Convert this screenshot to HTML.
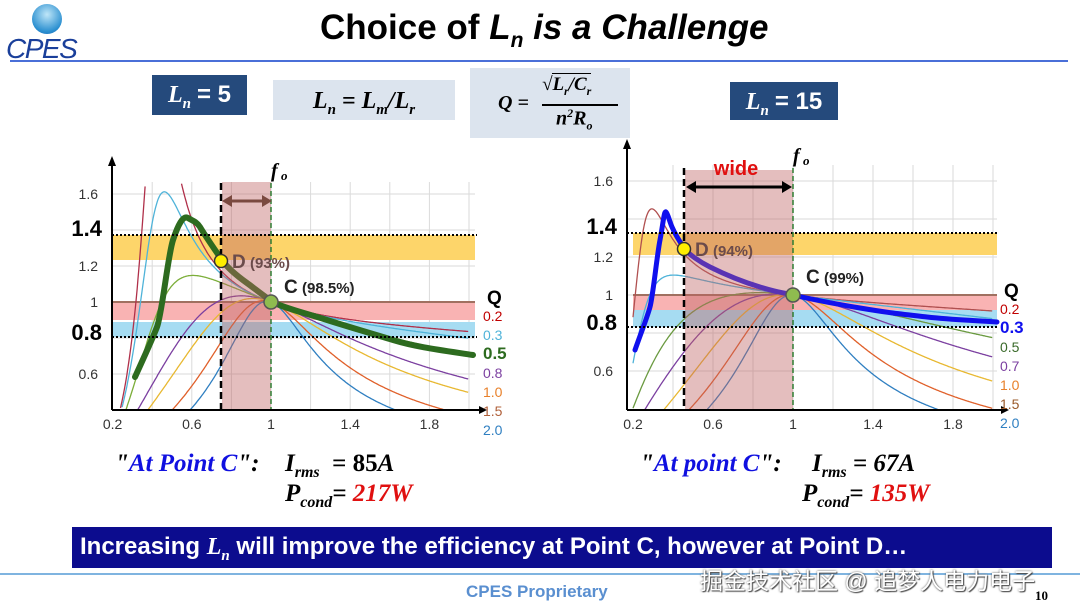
<!DOCTYPE html>
<html><head><meta charset="utf-8"><style>
body{margin:0;width:1080px;height:608px;background:#fff;overflow:hidden;position:relative;font-family:"Liberation Sans",sans-serif}
.a{position:absolute;white-space:nowrap}
.m{font-family:"Liberation Serif",serif;font-weight:bold;font-style:italic}
</style></head><body>
<!-- logo -->
<div class="a" style="left:32px;top:4px;width:30px;height:30px;border-radius:50%;background:radial-gradient(circle at 50% 35%,#bfe6f8,#2a8fd0 70%,#1a5fb0)"></div>
<div class="a" style="left:6px;top:33px;font-size:28px;font-style:italic;color:#1a3f9a;letter-spacing:-1.5px">CPES</div>
<div class="a" style="left:10px;top:60px;width:1058px;height:2px;background:#4a6fd8"></div>
<div class="a" style="left:320px;top:8px;font-size:35px;font-weight:bold;color:#000">Choice of <i>L<sub style="font-size:21px">n</sub> is a Challenge</i></div>
<!-- boxes -->
<div class="a m" style="left:152px;top:75px;width:95px;height:40px;background:#254a7c;color:#fff;font-size:24px;line-height:40px;text-align:center">L<sub style="font-size:15px">n</sub> <span style="font-style:normal;font-family:'Liberation Sans'">= 5</span></div>
<div class="a m" style="left:273px;top:80px;width:182px;height:40px;background:#dce4ee;color:#000;font-size:24px;line-height:42px;text-align:center">L<sub style="font-size:15px">n</sub> = L<sub style="font-size:15px">m</sub>/L<sub style="font-size:15px">r</sub></div>
<div class="a" style="left:470px;top:68px;width:160px;height:70px;background:#dce4ee"></div>
<div class="a m" style="left:498px;top:92px;font-size:20px">Q =</div>
<div class="a m" style="left:542px;top:74px;font-size:19px">√<span style="border-top:1.5px solid #000">L<sub style="font-size:12px">r</sub>/C<sub style="font-size:12px">r</sub></span></div>
<div class="a" style="left:542px;top:104px;width:76px;height:1.5px;background:#000"></div>
<div class="a m" style="left:556px;top:106px;font-size:20px">n<sup style="font-size:12px">2</sup>R<sub style="font-size:12px">o</sub></div>
<div class="a m" style="left:730px;top:82px;width:108px;height:38px;background:#254a7c;color:#fff;font-size:24px;line-height:40px;text-align:center">L<sub style="font-size:15px">n</sub> <span style="font-style:normal;font-family:'Liberation Sans'">= 15</span></div>

<svg class="a" style="left:0;top:0" width="1080" height="608" id="s">
<g id="L"></g><g id="R"></g>
</svg>

<!-- bottom text -->
<div class="a m" style="left:115px;top:450px;font-size:25px;color:#1010e0"><span style="color:#000">"</span>At Point C<span style="color:#000">":</span></div>
<div class="a m" style="left:285px;top:450px;font-size:25px;color:#000">I<sub style="font-size:16px">rms</sub> <span style="font-style:normal">&nbsp;= 85</span>A</div>
<div class="a m" style="left:285px;top:480px;font-size:25px;color:#000">P<sub style="font-size:16px">cond</sub>= <span style="color:#e01010">217W</span></div>
<div class="a m" style="left:640px;top:450px;font-size:25px;color:#1010e0"><span style="color:#000">"</span>At point C<span style="color:#000">":</span></div>
<div class="a m" style="left:812px;top:450px;font-size:25px;color:#000">I<sub style="font-size:16px">rms</sub> = 67A</div>
<div class="a m" style="left:802px;top:480px;font-size:25px;color:#000">P<sub style="font-size:16px">cond</sub>= <span style="color:#e01010">135W</span></div>
<div class="a" style="left:72px;top:527px;width:980px;height:41px;background:#0c0c8e"></div>
<div class="a" style="left:80px;top:533px;font-size:24px;font-weight:bold;color:#fff">Increasing <i style="font-family:'Liberation Serif'">L<sub style="font-size:15px">n</sub></i> will improve the efficiency at Point C, however at Point D…</div>
<div class="a" style="left:0;top:573px;width:1080px;height:1.5px;background:#7fb4e0"></div>
<div class="a" style="left:466px;top:582px;font-size:17px;font-weight:bold;color:#5a8fd0">CPES Proprietary</div>
<div class="a" style="left:1035px;top:588px;font-size:13px;font-weight:bold;font-family:'Liberation Serif',serif">10</div>
<div class="a" style="left:700px;top:562px;font-size:23px;color:#fff;text-shadow:0 0 2px #555,1px 1px 1px #444;font-family:'Liberation Sans','Noto Sans CJK SC',sans-serif">掘金技术社区 @ 追梦人电力电子</div>

<script>
var NS="http://www.w3.org/2000/svg";
function el(g,t,a,txt){var e=document.createElementNS(NS,t);for(var k in a)e.setAttribute(k,a[k]);if(txt!==undefined)e.textContent=txt;g.appendChild(e);return e;}
function M(f,Ln,Q){var a=1+(1/Ln)*(1-1/(f*f)),b=Q*(f-1/f);return 1/Math.sqrt(a*a+b*b);}
function chart(g,o){
 var X=function(f){return o.x1+(f-1)*o.sx},Y=function(v){return o.y1-(v-1)*o.sy};
 for(var f=0.4;f<=2.01;f+=0.2)el(g,"line",{x1:X(f),x2:X(f),y1:o.top,y2:410,stroke:"#dadada","stroke-width":1});
 for(var v=0.6;v<=1.61;v+=0.2)el(g,"line",{x1:o.x0,x2:o.xr,y1:Y(v),y2:Y(v),stroke:"#dadada","stroke-width":1});
 var B=o.bands;
 el(g,"rect",{x:o.bx,y:B[0],width:o.xr-o.bx,height:B[1]-B[0],fill:"#fdd56a"});
 el(g,"rect",{x:o.bx,y:B[1],width:o.xr-o.bx,height:B[2]-B[1],fill:"#dcefcc"});
 el(g,"rect",{x:o.bx,y:B[3],width:o.xr-o.bx,height:B[4]-B[3],fill:"#f9b3b3"});
 el(g,"rect",{x:o.bx,y:B[5],width:o.xr-o.bx,height:B[6]-B[5],fill:"#a6dcf2"});
 el(g,"line",{x1:o.bx,x2:o.xr,y1:Y(1),y2:Y(1),stroke:"#a07060","stroke-width":2});
 o.qs.forEach(function(q,i){var d="",pen=false;
  for(var f=0.2;f<=2.0;f+=0.004){var y=Y(M(f,o.Ln,q*o.qk));var x=X(f);
   if(y<o.top||y>410){pen=false;continue;}
   d+=(pen?"L":"M")+x.toFixed(1)+","+y.toFixed(1);pen=true;}
  el(g,"path",{d:d,fill:"none",stroke:o.cols[i],"stroke-width":1.3});});
 el(g,"path",{d:o.bold,fill:"none",stroke:o.bc,"stroke-width":o.bw,"stroke-linejoin":"round","stroke-linecap":"round"});
 el(g,"rect",{x:o.px,y:o.ptop,width:X(1)-o.px,height:410-o.ptop,fill:"rgba(190,100,100,0.42)"});
 el(g,"line",{x1:o.x0,x2:o.xr+2,y1:B[0],y2:B[0],stroke:"#000","stroke-width":2,"stroke-dasharray":"2,2"});
 el(g,"line",{x1:o.x0,x2:o.xr+2,y1:B[6],y2:B[6],stroke:"#000","stroke-width":2,"stroke-dasharray":"2,2"});
 el(g,"line",{x1:o.px-1,x2:o.px-1,y1:o.vtop,y2:410,stroke:"#000","stroke-width":2.5,"stroke-dasharray":"7,4"});
 el(g,"line",{x1:X(1),x2:X(1),y1:o.vtop,y2:410,stroke:"#2e7d32","stroke-width":1.5,"stroke-dasharray":"5,3"});
 el(g,"line",{x1:o.x0,x2:o.x0,y1:410,y2:o.top-22,stroke:"#000","stroke-width":2});
 el(g,"path",{d:"M"+(o.x0-4)+","+(o.top-16)+"L"+o.x0+","+(o.top-26)+"L"+(o.x0+4)+","+(o.top-16)+"Z"});
 el(g,"line",{x1:o.x0,x2:o.xr+8,y1:410,y2:410,stroke:"#000","stroke-width":2});
 el(g,"path",{d:"M"+(o.xr+4)+",406L"+(o.xr+12)+",410L"+(o.xr+4)+",414Z"});
 [[0.2,"0.2"],[0.6,"0.6"],[1,"1"],[1.4,"1.4"],[1.8,"1.8"]].forEach(function(t){el(g,"text",{x:X(t[0]),y:429,"font-size":14,"text-anchor":"middle",fill:"#333"},t[1]);});
 [[1.6,"1.6"],[1.2,"1.2"],[1,"1"],[0.6,"0.6"]].forEach(function(t){el(g,"text",{x:o.x0-14,y:Y(t[0])+5,"font-size":14,"text-anchor":"end",fill:"#333"},t[1]);});
 el(g,"text",{x:o.x0-10,y:B[0]+1,"font-size":22,"font-weight":"bold","text-anchor":"end"},"1.4");
 el(g,"text",{x:o.x0-10,y:B[6]+3,"font-size":22,"font-weight":"bold","text-anchor":"end"},"0.8");
 el(g,"text",{x:o.lx+4,y:Y(1)+2,"font-size":19,"font-weight":"bold"},"Q");
 o.labs.forEach(function(l,i){el(g,"text",{x:o.lx,y:Y(1)+19+i*19,"font-size":l[2]?17:14,"font-weight":l[2]?"bold":"normal",fill:l[1]},l[0]);});
 el(g,"text",{x:X(1),y:o.vtop-6,"font-size":20,"font-weight":"bold","font-style":"italic","font-family":"Liberation Serif"},"f");
 el(g,"text",{x:X(1)+10,y:o.vtop-3,"font-size":13,"font-weight":"bold","font-style":"italic","font-family":"Liberation Serif"},"o");
 el(g,"circle",{cx:o.px-1,cy:o.dy,r:6.5,fill:"#ffee00",stroke:"#333","stroke-width":1.5});
 el(g,"circle",{cx:X(1),cy:Y(1),r:7,fill:"#8fbc4f",stroke:"#555","stroke-width":1.5});
 el(g,"text",{x:o.px+10,y:o.dy+7,"font-size":19,"font-weight":"bold",fill:"#6b4b4b"},"D");
 el(g,"text",{x:o.px+28,y:o.dy+7,"font-size":15,"font-weight":"bold",fill:"#6b4b4b"},o.dt);
 el(g,"text",{x:X(1)+13,y:o.cy,"font-size":19,"font-weight":"bold",fill:"#222"},"C");
 el(g,"text",{x:X(1)+31,y:o.cy,"font-size":15,"font-weight":"bold",fill:"#222"},o.ct);
}
var cl=["#b0304a","#4fb3d9","#7cae3a","#7b3fa0","#e8b830","#e0602a","#2f7fc1"];
chart(document.getElementById("L"),{x1:271,sx:198,y1:302,sy:180,top:182,x0:112,xr:475,bx:112,
 bands:[235,260,260,302,320,322,337],Ln:5,qk:1.1,qs:[0.2,0.3,0.5,0.8,1.0,1.5,2.0],cols:cl,
 bold:"M135,377C145,355 152,340 157,327S168,255 173,240S183,215 188,218S197,222 200,227S215,250 222,260S240,278 247,283S265,297 273,302S305,313 327,320S370,333 393,340S440,350 473,355",
 bc:"#2d6b1f",bw:6,px:222,ptop:182,vtop:183,lx:483,dy:261,cy:293,dt:"(93%)",ct:"(98.5%)",
 labs:[["0.2","#c00000"],["0.3","#4fb3d9"],["0.5","#2d6b1f",1],["0.8","#7b3fa0"],["1.0","#e8802a"],["1.5","#b0603a"],["2.0","#2f7fc1"]]});
chart(document.getElementById("R"),{x1:793,sx:200,y1:295,sy:190,top:165,x0:627,xr:997,bx:633,
 bands:[233,255,255,295,315,310,327],Ln:15,qk:1,qs:[0.2,0.3,0.5,0.7,1.0,1.5,2.0],cols:["#b05050","#4fb3d9","#6a9a40","#7b3fa0","#e8b830","#e0602a","#2f7fc1"],
 bold:"M635,350C642,330 647,318 650,307S657,255 660,240S664,210 666,212S669,220 672,227S680,242 684,248S700,262 710,267S740,281 760,287S780,292 793,295S830,303 860,308S900,314 927,317S970,320 997,322",
 bc:"#1010ee",bw:5,px:685,ptop:170,vtop:168,lx:1000,dy:249,cy:283,dt:"(94%)",ct:"(99%)",
 labs:[["0.2","#c00000"],["0.3","#1010ee",1],["0.5","#3a6a2a"],["0.7","#7b3fa0"],["1.0","#e8802a"],["1.5","#9a5a2a"],["2.0","#2f7fc1"]]});
var g=document.getElementById("R");
el(g,"text",{x:736,y:175,"font-size":20,"font-weight":"bold",fill:"#e01010","text-anchor":"middle"},"wide");
el(g,"line",{x1:690,x2:787,y1:187,y2:187,stroke:"#000","stroke-width":3});
el(g,"path",{d:"M686,187L696,181L696,193Z"});el(g,"path",{d:"M792,187L782,181L782,193Z"});
var h=document.getElementById("L");
el(h,"line",{x1:227,x2:267,y1:201,y2:201,stroke:"#7a4a40","stroke-width":3});
el(h,"path",{d:"M222,201L232,195L232,207Z",fill:"#7a4a40"});el(h,"path",{d:"M272,201L262,195L262,207Z",fill:"#7a4a40"});
</script>
</body></html>
